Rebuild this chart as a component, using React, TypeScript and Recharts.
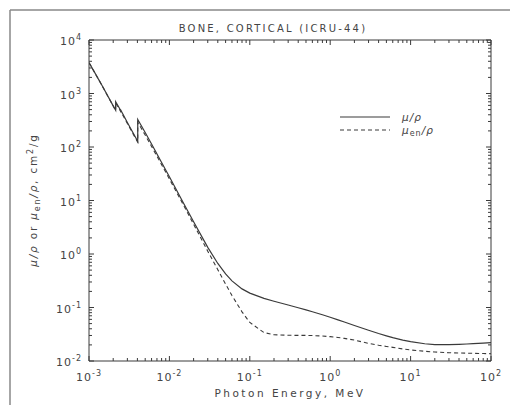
import React from "react";
import { LineChart, Line, XAxis, YAxis } from "recharts";

// Photon energy (MeV) and coefficients (cm^2/g)
const muEnergy = [
  0.001, 0.0010721, 0.0010721, 0.001305, 0.001305, 0.0015, 0.002, 0.0021455, 0.0021455,
  0.002472, 0.002472, 0.003, 0.004, 0.0040381, 0.0040381, 0.005, 0.006, 0.008, 0.01,
  0.015, 0.02, 0.03, 0.04, 0.05, 0.06, 0.08, 0.1, 0.15, 0.2, 0.3, 0.4, 0.5, 0.6, 0.8,
  1, 1.25, 1.5, 2, 3, 4, 5, 6, 8, 10, 15, 20, 30, 40, 50, 60, 80, 100,
];
const muValues = [
  3781, 3150, 3156, 1873, 1883, 1295, 586.9, 487.7, 703.5,
  485.9, 495.4, 287.7, 131.1, 127.8, 326.2, 186.5, 113.4, 51.3, 27.7,
  8.909, 3.998, 1.333, 0.6655, 0.4242, 0.3148, 0.2229, 0.1855, 0.148, 0.1309, 0.1113, 0.0991, 0.0902, 0.0833, 0.0731,
  0.0657, 0.0587, 0.0535, 0.0461, 0.0375, 0.0326, 0.0295, 0.0273, 0.0246, 0.023, 0.021, 0.0203, 0.0202, 0.0205, 0.0208, 0.0211, 0.0216, 0.022,
];
const muEnValues = [
  3772, 3141, 3147, 1864, 1874, 1287, 581.8, 483.0, 668,
  462, 470, 275, 126, 123, 290, 167, 102.5, 46.8, 25.3,
  8.18, 3.6, 1.13, 0.509, 0.274, 0.168, 0.0829, 0.0525, 0.034, 0.031, 0.0303, 0.0301, 0.0301, 0.0299, 0.0293,
  0.0285, 0.0275, 0.0265, 0.0246, 0.0213, 0.0197, 0.0187, 0.018, 0.0168, 0.0161, 0.0152, 0.0147, 0.0143, 0.0141, 0.014, 0.0139, 0.0138, 0.0137,
];

const xMajorExp = [-3, -2, -1, 0, 1, 2];
const yMajorExp = [-2, -1, 0, 1, 2, 3, 4];
const minorMults = [2, 3, 4, 5, 6, 7, 8, 9];

const buildTicks = (exps: number[]) => {
  const t: number[] = [];
  exps.forEach((e, i) => {
    t.push(Math.pow(10, e));
    if (i < exps.length - 1) minorMults.forEach((m) => t.push(m * Math.pow(10, e)));
  });
  return t;
};
const xTicks = buildTicks(xMajorExp);
const yTicks = buildTicks(yMajorExp);

const muData = muEnergy.map((e, i) => ({ e, v: muValues[i] }));
const muEnData = muEnergy.map((e, i) => ({ e, v: muEnValues[i] }));

const INK = "#3a3a3a";
const TXT = "#444";
const FONT = "DejaVu Sans, sans-serif";

const isMajor = (v: number) => {
  const l = Math.log10(v);
  return Math.abs(l - Math.round(l)) < 1e-6;
};

const Label10 = ({ x, y, exp, anchor }: { x: number; y: number; exp: number; anchor: "middle" | "end" }) => (
  <text x={x} y={y} textAnchor={anchor} fill={TXT} fontFamily={FONT} fontSize={11} letterSpacing={1}>
    <tspan>10</tspan>
    <tspan dy={-5} fontSize={8}>{exp < 0 ? "-" + Math.abs(exp) : String(exp)}</tspan>
  </text>
);

const makeTick = (side: "bottom" | "top" | "left" | "right") => (props: any) => {
  const { x, y, payload } = props;
  const v = payload.value as number;
  const major = isMajor(v);
  const len = major ? 5 : 3;
  let line;
  if (side === "bottom") line = <line x1={x} y1={y} x2={x} y2={y - len} stroke={INK} />;
  else if (side === "top") line = <line x1={x} y1={y} x2={x} y2={y + len} stroke={INK} />;
  else if (side === "left") line = <line x1={x} y1={y} x2={x + len} y2={y} stroke={INK} />;
  else line = <line x1={x} y1={y} x2={x - len} y2={y} stroke={INK} />;
  const exp = Math.round(Math.log10(v));
  return (
    <g>
      {line}
      {major && side === "bottom" && <Label10 x={x} y={y + 20} exp={exp} anchor="middle" />}
      {major && side === "left" && <Label10 x={x - 7} y={y + 5} exp={exp} anchor="end" />}
    </g>
  );
};

export default function App() {
  return (
    <div style={{ position: "absolute", left: 0, top: 0, width: 510, height: 405, background: "#fff" }}>
      <LineChart width={510} height={405} margin={{ top: 39, right: 18, bottom: 14, left: 0 }}>
        <XAxis
          xAxisId="bottom"
          dataKey="e"
          type="number"
          scale="log"
          domain={[0.001, 100]}
          allowDataOverflow
          ticks={xTicks}
          interval={0}
          tickSize={0}
          tickMargin={0}
          tickLine={false}
          height={30}
          axisLine={{ stroke: INK }}
          tick={makeTick("bottom")}
        />
        <XAxis
          xAxisId="top"
          orientation="top"
          dataKey="e"
          type="number"
          scale="log"
          domain={[0.001, 100]}
          allowDataOverflow
          ticks={xTicks}
          interval={0}
          tickSize={0}
          tickMargin={0}
          tickLine={false}
          height={1}
          axisLine={{ stroke: INK }}
          tick={makeTick("top")}
        />
        <YAxis
          yAxisId="left"
          type="number"
          scale="log"
          domain={[0.01, 10000]}
          allowDataOverflow
          ticks={yTicks}
          interval={0}
          tickSize={0}
          tickMargin={0}
          tickLine={false}
          width={89}
          axisLine={{ stroke: INK }}
          tick={makeTick("left")}
        />
        <YAxis
          yAxisId="right"
          orientation="right"
          type="number"
          scale="log"
          domain={[0.01, 10000]}
          allowDataOverflow
          ticks={yTicks}
          interval={0}
          tickSize={0}
          tickMargin={0}
          tickLine={false}
          width={1}
          axisLine={{ stroke: INK }}
          tick={makeTick("right")}
        />
        <Line
          xAxisId="top"
          yAxisId="right"
          data={muData}
          dataKey="v"
          type="linear"
          stroke="none"
          dot={false}
          legendType="none"
          isAnimationActive={false}
        />
        <Line
          xAxisId="bottom"
          yAxisId="left"
          data={muEnData}
          dataKey="v"
          type="linear"
          stroke={INK}
          strokeWidth={1.1}
          strokeDasharray="4 3"
          dot={false}
          isAnimationActive={false}
        />
        <Line
          xAxisId="bottom"
          yAxisId="left"
          data={muData}
          dataKey="v"
          type="linear"
          stroke={INK}
          strokeWidth={1.2}
          dot={false}
          isAnimationActive={false}
        />
      </LineChart>
      <svg
        width={510}
        height={405}
        style={{ position: "absolute", left: 0, top: 0, pointerEvents: "none" }}
      >
        <line x1={10} y1={10} x2={510} y2={10} stroke="#888" strokeWidth={1.5} />
        <line x1={10} y1={10} x2={10} y2={405} stroke="#888" strokeWidth={1.5} />
        <text x={273} y={32} textAnchor="middle" fill={TXT} fontFamily={FONT} fontSize={10} letterSpacing={2.2}>
          BONE, CORTICAL (ICRU-44)
        </text>
        <text x={290} y={397} textAnchor="middle" fill={TXT} fontFamily={FONT} fontSize={10.5} letterSpacing={2.5}>
          Photon Energy, MeV
        </text>
        <text
          transform="translate(37,200) rotate(-90)"
          textAnchor="middle"
          fill={TXT}
          fontFamily={FONT}
          fontSize={10.5}
          letterSpacing={1.8}
        >
          <tspan fontStyle="italic">μ/ρ</tspan>
          <tspan> or </tspan>
          <tspan fontStyle="italic">μ</tspan>
          <tspan dy={3} fontSize={8}>en</tspan>
          <tspan dy={-3} fontStyle="italic">/ρ</tspan>
          <tspan>, cm</tspan>
          <tspan dy={-4} fontSize={8}>2</tspan>
          <tspan dy={4}>/g</tspan>
        </text>
        <line x1={340} y1={117} x2={390} y2={117} stroke={INK} strokeWidth={1.2} />
        <line x1={340} y1={130} x2={390} y2={130} stroke={INK} strokeWidth={1.1} strokeDasharray="4 3" />
        <text x={402} y={121} fill={TXT} fontFamily={FONT} fontSize={10.5} fontStyle="italic" letterSpacing={1}>
          μ/ρ
        </text>
        <text x={402} y={134} fill={TXT} fontFamily={FONT} fontSize={10.5} letterSpacing={1}>
          <tspan fontStyle="italic">μ</tspan>
          <tspan dy={2} fontSize={8}>en</tspan>
          <tspan dy={-2} fontStyle="italic">/ρ</tspan>
        </text>
      </svg>
    </div>
  );
}
